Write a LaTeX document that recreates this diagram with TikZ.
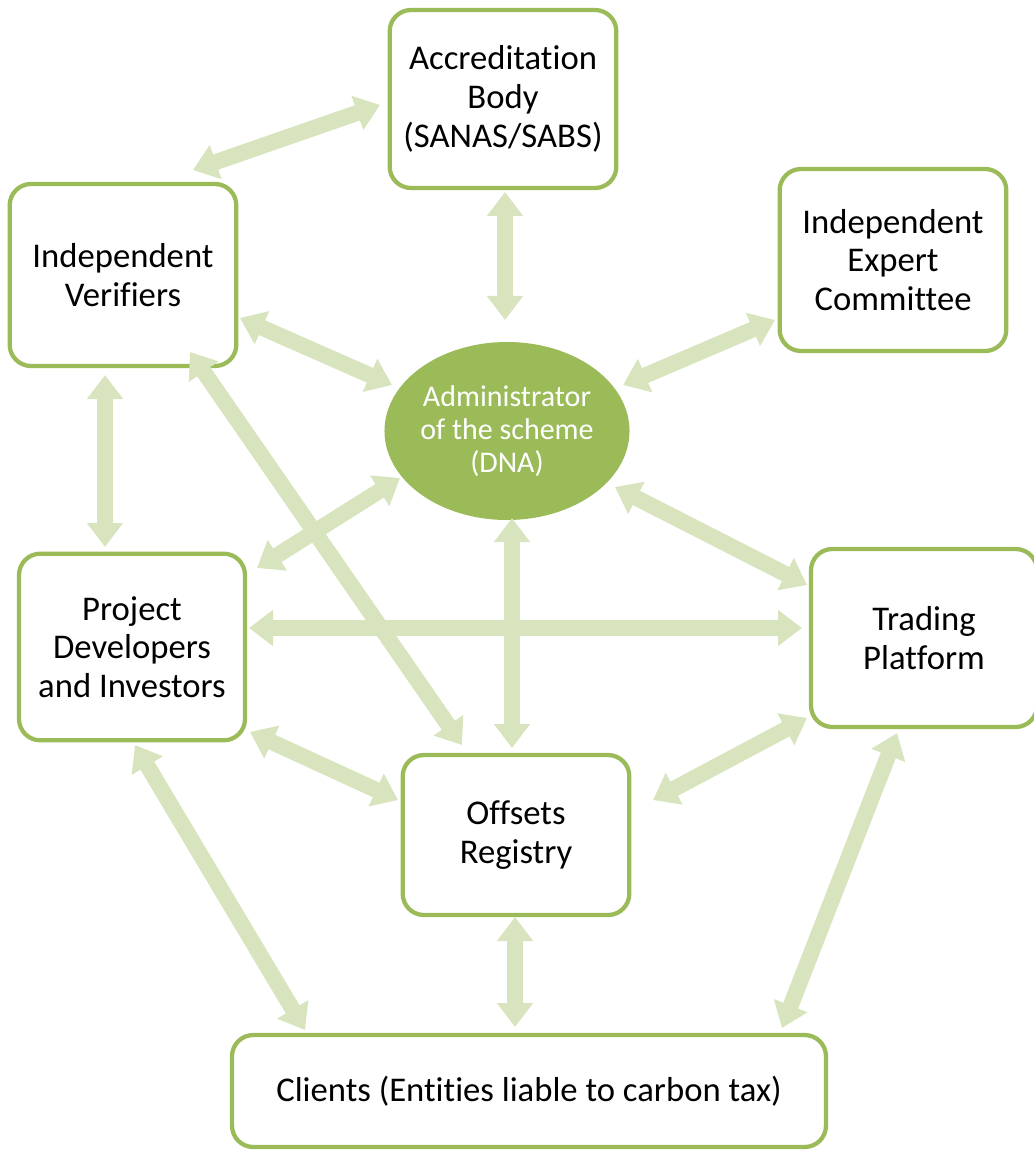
\documentclass[tikz,border=0pt]{standalone}
\usepackage{fontspec}
\setmainfont{Carlito}[Ligatures={NoCommon}]
\usetikzlibrary{arrows.meta}
\usetikzlibrary{shapes.geometric}
\definecolor{box-green}{RGB}{155, 187, 89}
\definecolor{link-green}{RGB}{216, 228, 189}

\tikzset{
  party/.style={draw=box-green, line width=3.2pt, fill=white, rounded corners=16pt,
    align=center, inner sep=2pt, font=\fontsize{26}{29}\selectfont},
  link/.style={draw=link-green, line width=12pt,
    {Triangle[width=26pt,length=18pt]}-{Triangle[width=26pt,length=18pt]}}
}

\begin{document}
\begin{tikzpicture}[x=0.75pt, y=-0.75pt]
                \useasboundingbox (0, 0) rectangle (1033, 1151);
                % boxes
                \node[party, minimum width=170pt, minimum height=133.5pt] (acc) at (503, 99) {Accreditation\\Body\\(SANAS/SABS)};
                \node[party, minimum width=170pt, minimum height=136.5pt] (exp) at (893, 260) {Independent\\Expert\\Committee};
                \node[party, minimum width=170pt, minimum height=136.5pt] (ver) at (123, 275) {Independent\\Verifiers};
                \node[ellipse, fill=box-green, text=white, inner sep=0pt, minimum width=180.75pt, minimum height=133.5pt,
                      align=center, font=\fontsize{22.5}{25}\selectfont] (adm) at (507, 431) {Administrator\\of the scheme\\(DNA)};
                \node[party, minimum width=169.5pt, minimum height=140pt] (dev) at (132, 647) {Project\\Developers\\and Investors};
                \node[party, minimum width=169.5pt, minimum height=133.5pt] (trd) at (924, 638) {Trading\\Platform};
                \node[party, minimum width=170pt, minimum height=120pt] (reg) at (516, 835) {Offsets\\Registry};
                \node[party, minimum width=445.5pt, minimum height=84pt] (cli) at (529, 1091) {Clients (Entities liable to carbon tax)};
                % links
                \draw[link] ([shift={(-123, 6)}]acc.center) -- ([shift={(70, -105)}]ver.center);
                \draw[link] ([shift={(2, 93)}]acc.center) -- ([shift={(-2, -111)}]adm.center);
                \draw[link] ([shift={(117, 43)}]ver.center) -- ([shift={(-115, -46)}]adm.center);
                \draw[link] ([shift={(-118, 60)}]exp.center) -- ([shift={(116, -46)}]adm.center);
                \draw[link] ([shift={(-18, 100)}]ver.center) -- ([shift={(-27, -100)}]dev.center);
                \draw[link] ([shift={(67, 77)}]ver.center) -- ([shift={(-54, -90)}]reg.center);
                \draw[link] ([shift={(-107, 47)}]adm.center) -- ([shift={(125, -79)}]dev.center);
                \draw[link] ([shift={(108, 56)}]adm.center) -- ([shift={(-117, -53)}]trd.center);
                \draw[link] ([shift={(117, -19)}]dev.center) -- ([shift={(-122, -10)}]trd.center);
                \draw[link] ([shift={(5, 87)}]adm.center) -- ([shift={(-4, -87)}]reg.center);
                \draw[link] ([shift={(118, 85)}]dev.center) -- ([shift={(-118, -35)}]reg.center);
                \draw[link] ([shift={(-117, 80)}]trd.center) -- ([shift={(137, -35)}]reg.center);
                \draw[link] ([shift={(3, 98)}]dev.center) -- ([shift={(-224, -61)}]cli.center);
                \draw[link] ([shift={(-1, 82)}]reg.center) -- ([shift={(-14, -64)}]cli.center);
                \draw[link] ([shift={(-27, 95)}]trd.center) -- ([shift={(253, -63)}]cli.center);
            \end{tikzpicture}
\end{document}
